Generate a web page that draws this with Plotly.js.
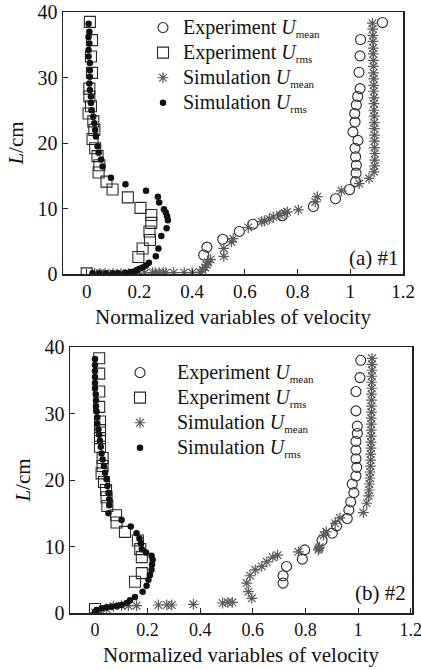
<!DOCTYPE html>
<html>
<head>
<meta charset="utf-8">
<script src="https://cdn.plot.ly/plotly-3.0.1.min.js"></script>
<style>
html,body{margin:0;padding:0;background:#fff;}
#chart{width:421px;height:670px;}
</style>
</head>
<body>
<div id="chart"></div>
<script>
// ---------- Panel (a) #1 ----------
const expMeanL_a = [38.4,35.8,33.3,30.8,28.3,27.1,25.8,24.5,23.2,21.7,20.4,19.2,17.9,16.6,15.4,14.1,12.9,11.5,10.3,8.9,7.6,6.5,5.3,4.1,2.9];
const expMeanV_a = [1.122,1.039,1.037,1.033,1.037,1.028,1.023,1.017,1.018,1.010,1.029,1.018,1.020,1.023,1.022,1.020,0.997,0.944,0.860,0.742,0.630,0.579,0.516,0.456,0.444];

const expRmsL_a = [38.5,35.7,33.2,30.7,28.3,27.1,25.6,24.5,23.3,22.0,20.6,19.2,18.0,16.6,15.5,14.1,12.9,11.7,10.1,9.0,7.8,6.5,5.2,3.9,2.6,0.1];
const expRmsV_a = [0.012,0.020,0.016,0.020,0.010,0.010,0.016,0.007,0.025,0.029,0.022,0.032,0.041,0.048,0.045,0.075,0.098,0.156,0.204,0.245,0.245,0.238,0.240,0.212,0.196,0.0];

const simMeanL_a = [0.1,0.1,0.1,0.1,0.1,0.1,0.1,0.15,0.2,0.2,0.2,0.2,0.2,0.2,0.2,0.2,0.3,0.6,1.0,1.4,1.8,2.2,2.7,3.9,4.9,5.4,7.1,8.0,8.1,8.4,8.7,9.0,9.3,9.5,9.8,11.0,11.8,12.7,13.8,14.6,
  15.6,16.5,17.4,18.4,19.3,20.3,21.2,22.2,23.1,24.1,25.0,26.0,26.9,27.9,28.8,29.8,30.7,31.7,32.6,33.6,34.5,35.5,36.4,37.4,38.3];
const simMeanV_a = [0.03,0.05,0.07,0.10,0.13,0.16,0.19,0.22,0.25,0.26,0.275,0.29,0.30,0.33,0.37,0.40,0.43,0.44,0.45,0.455,0.46,0.47,0.52,0.52,0.549,0.556,0.613,0.664,0.674,0.693,0.708,0.733,0.752,0.761,0.803,0.867,0.875,0.966,1.034,1.071,
  1.090,1.092,1.093,1.093,1.092,1.092,1.092,1.091,1.091,1.091,1.090,1.090,1.090,1.089,1.089,1.089,1.088,1.088,1.088,1.087,1.087,1.086,1.086,1.085,1.084];

const simRmsL_a = [38.2,37.0,36.2,35.2,34.2,33.2,32.2,31.1,30.1,29.1,28.1,27.1,26.1,25.0,24.0,23.0,22.0,21.0,19.5,18.5,17.5,16.4,14.7,13.7,12.7,11.8,10.9,9.9,9.4,8.8,8.2,7.0,5.8,3.9,2.7,1.7,1.3,1.0,0.8,0.6,0.4,0.3,0.2,0.2,0.1,0.1,0.1,0.1,0.1];
const simRmsV_a = [0.007,0.010,0.007,0.010,0.007,0.007,0.012,0.012,0.012,0.010,0.012,0.016,0.016,0.018,0.025,0.029,0.032,0.035,0.041,0.045,0.054,0.060,0.092,0.147,0.225,0.270,0.275,0.293,0.300,0.305,0.308,0.303,0.283,0.272,0.262,0.236,0.225,0.212,0.200,0.190,0.180,0.170,0.162,0.145,0.120,0.098,0.073,0.048,0.022];

// ---------- Panel (b) #2 ----------
const expMeanL_b = [38.0,35.4,33.3,30.4,28.1,27.0,25.8,24.5,23.2,21.9,20.6,19.4,18.1,16.7,15.5,14.2,13.1,12.0,10.9,9.5,8.1,7.0,5.6,4.5];
const expMeanV_b = [1.010,1.007,0.992,0.992,0.997,0.997,0.992,0.992,0.992,0.995,0.992,0.978,0.984,0.972,0.965,0.959,0.918,0.902,0.863,0.797,0.788,0.728,0.715,0.715];

const expRmsL_b = [38.3,36.0,33.3,31.0,28.8,27.5,26.3,25.0,23.3,22.1,21.0,19.7,18.5,17.4,16.1,14.7,13.6,12.2,10.9,9.6,8.4,6.0,4.7,0.6];
const expRmsV_b = [0.016,0.016,0.016,0.016,0.019,0.019,0.019,0.019,0.029,0.029,0.025,0.034,0.042,0.044,0.047,0.080,0.082,0.114,0.163,0.172,0.178,0.178,0.152,0.0];

const simMeanL_b = [0.05,0.3,0.6,1.0,1.1,1.1,1.1,1.2,1.2,1.2,1.3,1.5,1.6,1.6,2.2,3.2,4.5,5.6,6.5,7.0,7.7,8.4,8.7,9.2,9.5,9.7,9.9,11.7,12.2,13.5,14.3,15.1,16.5,
  17.6,18.5,19.4,20.3,21.2,22.1,23.0,23.9,24.8,25.7,26.6,27.5,28.4,29.3,30.2,31.1,32.0,32.9,33.8,34.7,35.6,36.5,37.4,38.3];
const simMeanV_b = [0.0,0.019,0.044,0.070,0.101,0.127,0.158,0.241,0.273,0.292,0.374,0.485,0.505,0.522,0.596,0.583,0.577,0.589,0.609,0.634,0.653,0.676,0.694,0.773,0.849,0.851,0.853,0.869,0.879,0.913,0.931,1.020,1.033,
  1.040,1.042,1.043,1.045,1.046,1.047,1.048,1.048,1.049,1.049,1.050,1.050,1.050,1.050,1.051,1.051,1.051,1.051,1.052,1.052,1.052,1.053,1.053,1.053];

const simRmsL_b = [38.2,37.3,36.4,35.5,34.6,33.8,32.9,32.0,31.1,30.3,29.4,28.5,27.6,26.8,25.9,25.0,24.0,23.1,22.1,21.1,20.1,19.1,18.1,17.1,16.2,15.0,14.0,13.0,12.0,11.2,10.5,9.6,9.1,8.6,8.0,7.3,6.5,5.7,5.0,4.1,3.2,2.4,1.9,1.5,1.2,1.05,0.95,0.85,0.7,0.45,0.15];
const simRmsV_b = [0.0,0.0,0.0,0.0,0.0,0.0,0.003,0.004,0.004,0.006,0.009,0.009,0.013,0.016,0.019,0.022,0.025,0.029,0.034,0.038,0.044,0.047,0.051,0.054,0.054,0.051,0.101,0.136,0.158,0.169,0.174,0.178,0.194,0.215,0.219,0.217,0.215,0.209,0.203,0.196,0.181,0.152,0.133,0.120,0.101,0.082,0.063,0.044,0.025,0.006,0.0];

// ---------- Labels ----------
const xTickVals = [0,0.2,0.4,0.6,0.8,1,1.2];
const xTickText = ['0','0.2','0.4','0.6','0.8','1','1.2'];
const yTickVals = [0,10,20,30,40];
const seriesPrefix = ['Experiment','Experiment','Simulation','Simulation'];
const seriesSub = ['mean','rms','mean','rms'];
const xTitle = 'Normalized variables of velocity';
const yTitle = '<i>L</i>/cm';
const panelLabels = ['(a) #1','(b) #2'];

const FONT = 'Liberation Serif, Times New Roman, serif';
const W = 421, H = 670;

const styles = [
  {symbol:'circle-open', size:10, color:'#2a2a2a', line:{width:1.1}},
  {symbol:'square-open', size:11, color:'#2a2a2a', line:{width:1.1}},
  {symbol:'asterisk-open', size:9, color:'#5a5a5a', line:{width:1.2, color:'#5a5a5a'}},
  {symbol:'circle', size:6.5, color:'#111'}
];

function legendName(i, pad){
  return pad + '<span style="font-size:20px">' + seriesPrefix[i] + ' <i>U</i></span><sub><span style="font-size:11px">' + seriesSub[i] + '</span></sub>';
}

function traces(xa, ya, leg, sets, pad){
  return sets.map((s,i)=>({
    type:'scatter', mode:'markers', x:s[1], y:s[0], xaxis:xa, yaxis:ya,
    name: legendName(i, pad), legend:leg, marker:styles[i], showlegend:true
  }));
}

const data = [].concat(
  traces('x','y','legend',[[expMeanL_a,expMeanV_a],[expRmsL_a,expRmsV_a],[simMeanL_a,simMeanV_a],[simRmsL_a,simRmsV_a]], ''),
  traces('x2','y2','legend2',[[expMeanL_b,expMeanV_b],[expRmsL_b,expRmsV_b],[simMeanL_b,simMeanV_b],[simRmsL_b,simRmsV_b]], '\u00a0\u00a0\u00a0\u00a0')
);

function xax(dom, range, anchor, tsize){
  return {domain:dom, range:range, anchor:anchor, tickvals:xTickVals, ticktext:xTickText,
    ticks:'inside', ticklen:5, tickcolor:'#222', showline:true, mirror:true, linecolor:'#222', linewidth:1.5,
    showgrid:false, zeroline:false, ticklabeloverflow:'allow', automargin:false,
    tickfont:{family:FONT,size:tsize,color:'#111'},
    title:{text:xTitle, font:{family:FONT,size:21,color:'#111'}, standoff:8}};
}
function yax(dom, anchor){
  return {domain:dom, range:[0,40], anchor:anchor, tickvals:yTickVals,
    ticks:'inside', ticklen:5, tickcolor:'#222', showline:true, mirror:true, linecolor:'#222', linewidth:1.5,
    showgrid:false, zeroline:false, automargin:false, tickfont:{family:FONT,size:20,color:'#111'},
    title:{text:yTitle, font:{family:FONT,size:21,color:'#111'}, standoff:8}};
}

const layout = {
  width:W, height:H, margin:{l:0,r:0,t:0,b:0}, paper_bgcolor:'#fff', plot_bgcolor:'#fff',
  font:{family:FONT, color:'#111'},
  xaxis: xax([63/W, 403/W], [-0.09,1.2], 'y', 19),
  yaxis: yax([1-274/H, 1-12/H], 'x'),
  xaxis2: xax([70/W, 412/W], [-0.095,1.205], 'y2', 18),
  yaxis2: yax([1-613/H, 1-347/H], 'x2'),
  legend:{x:143/W, y:1-10/H, xanchor:'left', yanchor:'top', bgcolor:'rgba(0,0,0,0)', borderwidth:0,
    font:{family:FONT,size:17,color:'#111'}, itemwidth:30},
  legend2:{x:120/W, y:1-355/H, xanchor:'left', yanchor:'top', bgcolor:'rgba(0,0,0,0)', borderwidth:0,
    font:{family:FONT,size:17,color:'#111'}, itemwidth:30},
  annotations:[
    {text:panelLabels[0], xref:'paper', yref:'paper', x:401/W, y:1-258/H, xanchor:'right', yanchor:'middle', showarrow:false, font:{family:FONT,size:21,color:'#111'}},
    {text:panelLabels[1], xref:'paper', yref:'paper', x:408/W, y:1-593/H, xanchor:'right', yanchor:'middle', showarrow:false, font:{family:FONT,size:21,color:'#111'}}
  ]
};

Plotly.newPlot('chart', data, layout, {displayModeBar:false, staticPlot:true});
</script>
</body>
</html>
